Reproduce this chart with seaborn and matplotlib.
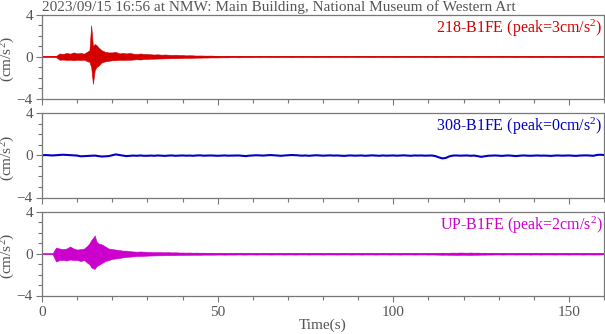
import numpy as np
import pandas as pd
import matplotlib
matplotlib.use("Agg")
import matplotlib.pyplot as plt
import seaborn as sns
from matplotlib.ticker import MultipleLocator

# ---------------- data ----------------
title = "2023/09/15 16:56 at NMW: Main Building, National Museum of Western Art"
labels = ["218-B1FE (peak=3cm/s$^2$)", "308-B1FE (peak=0cm/s$^2$)", "UP-B1FE (peak=2cm/s$^2$)"]

# sample times (s): 1 s steps, 0.5 s around the main shaking
times = (list(range(0, 14)) + [13.5, 14, 14.5, 15, 15.5] + list(range(16, 161)))
seconds = list(range(0, 161))

# envelope (max / min) of the 218-B1FE trace, cm/s^2
red_upper = [
    0.04, 0.04, 0.04, 0.05, 0.06, 0.30, 0.25, 0.35, 0.28, 0.40,
    0.30, 0.35, 0.28, 0.50, 0.60, 3.00, 1.00, 1.20, 1.10,
    0.90, 0.60, 0.45, 0.40,
    0.40, 0.45, 0.30, 0.35, 0.30, 0.35, 0.28, 0.25, 0.30, 0.25,
    0.25, 0.22, 0.20, 0.22, 0.18, 0.20, 0.18, 0.16, 0.18, 0.15,
    0.15, 0.12, 0.13, 0.12, 0.10, 0.11, 0.10, 0.09, 0.10, 0.08,
    0.08, 0.07, 0.08, 0.07, 0.07, 0.06, 0.07, 0.06, 0.06, 0.07,
    0.06, 0.05, 0.06, 0.07, 0.05, 0.06, 0.05, 0.06, 0.05, 0.06,
    0.05, 0.06, 0.05, 0.05, 0.06, 0.05, 0.06, 0.05, 0.05, 0.06,
    0.05, 0.05, 0.06, 0.05, 0.06, 0.05, 0.05, 0.06, 0.05, 0.05,
    0.06, 0.05, 0.05, 0.06, 0.05, 0.06, 0.05, 0.05, 0.06, 0.05,
    0.05, 0.06, 0.05, 0.05, 0.06, 0.05, 0.06, 0.05, 0.05, 0.06,
    0.05, 0.05, 0.06, 0.05, 0.06, 0.05, 0.05, 0.06, 0.05, 0.05,
    0.06, 0.05, 0.05, 0.06, 0.05, 0.06, 0.05, 0.05, 0.06, 0.05,
    0.05, 0.06, 0.05, 0.05, 0.06, 0.05, 0.06, 0.05, 0.05, 0.06,
    0.05, 0.05, 0.06, 0.05, 0.06, 0.05, 0.05, 0.06, 0.05, 0.05,
    0.06, 0.05, 0.05, 0.06, 0.05, 0.06, 0.05, 0.05, 0.06, 0.05,
    0.05,
]
red_lower = [
    -0.04, -0.04, -0.04, -0.05, -0.06, -0.30, -0.28, -0.32, -0.30, -0.35,
    -0.30, -0.32, -0.30, -0.45, -0.50, -1.00, -2.60, -1.30, -1.00,
    -0.90, -0.55, -0.45, -0.40,
    -0.35, -0.35, -0.30, -0.32, -0.30, -0.30, -0.28, -0.25, -0.28, -0.22,
    -0.22, -0.20, -0.20, -0.18, -0.18, -0.17, -0.16, -0.15, -0.15, -0.14,
    -0.13, -0.12, -0.12, -0.11, -0.10, -0.10, -0.09, -0.09, -0.08, -0.08,
    -0.08, -0.07, -0.07, -0.07, -0.06, -0.06, -0.07, -0.06, -0.06, -0.06,
    -0.06, -0.05, -0.06, -0.05, -0.05, -0.06, -0.05, -0.06, -0.05, -0.05,
    -0.05, -0.06, -0.05, -0.05, -0.06, -0.05, -0.05, -0.05, -0.06, -0.05,
    -0.05, -0.05, -0.06, -0.05, -0.05, -0.05, -0.06, -0.05, -0.05, -0.05,
    -0.06, -0.05, -0.05, -0.05, -0.06, -0.05, -0.05, -0.06, -0.05, -0.05,
    -0.05, -0.06, -0.05, -0.05, -0.05, -0.06, -0.05, -0.05, -0.05, -0.06,
    -0.05, -0.05, -0.06, -0.05, -0.05, -0.05, -0.06, -0.05, -0.05, -0.05,
    -0.06, -0.05, -0.05, -0.05, -0.06, -0.05, -0.05, -0.06, -0.05, -0.05,
    -0.05, -0.06, -0.05, -0.05, -0.05, -0.06, -0.05, -0.05, -0.05, -0.06,
    -0.05, -0.05, -0.06, -0.05, -0.05, -0.05, -0.06, -0.05, -0.05, -0.05,
    -0.06, -0.05, -0.05, -0.05, -0.06, -0.05, -0.05, -0.06, -0.05, -0.05,
    -0.05,
]

# 308-B1FE trace, one value per second (t = 0..160)
blue_mid = [
    0.00, 0.02, 0.00, -0.02, 0.00, 0.02, 0.05, 0.03, 0.02, 0.00,
    -0.03, -0.10, -0.08, -0.05, -0.05, -0.03, -0.08, -0.12, -0.10, -0.08,
    0.00, 0.08, 0.02, -0.03, -0.08, -0.05, -0.03, -0.05, -0.02, -0.05,
    -0.05, -0.03, -0.05, -0.02, -0.04, -0.06, -0.03, -0.02, -0.05, -0.03,
    -0.02, -0.04, -0.03, -0.05, -0.02, -0.01, -0.04, -0.03, -0.02, -0.04,
    -0.05, -0.03, -0.02, -0.04, -0.03, -0.01, -0.02, -0.05, -0.08, -0.04,
    -0.02, 0.00, -0.02, -0.03, -0.01, 0.02, 0.00, -0.03, -0.05, -0.02,
    0.00, 0.02, 0.01, -0.02, -0.04, -0.02, -0.05, -0.03, 0.00, -0.02,
    -0.04, -0.02, -0.01, -0.03, -0.02, -0.04, -0.06, -0.03, -0.02, -0.04,
    -0.03, -0.02, -0.05, -0.03, -0.01, -0.03, -0.05, -0.02, -0.04, -0.03,
    -0.02, -0.04, -0.03, -0.01, -0.03, -0.05, -0.02, -0.03, -0.02, -0.04,
    -0.03, -0.02, -0.08, -0.20, -0.30, -0.25, -0.10, -0.03, -0.02, -0.04,
    -0.03, -0.02, -0.05, -0.03, -0.08, -0.15, -0.10, -0.05, -0.03, -0.02,
    -0.04, -0.06, -0.03, -0.02, -0.05, -0.08, -0.04, -0.02, -0.03, -0.05,
    -0.03, -0.02, -0.04, -0.03, -0.05, -0.06, -0.03, -0.02, -0.04, -0.03,
    -0.02, -0.04, -0.06, -0.03, -0.02, -0.01, -0.03, -0.05, 0.03, 0.05,
    0.02,
]

# envelope (max / min) of the UP-B1FE trace, cm/s^2
mag_upper = [
    0.03, 0.03, 0.03, 0.03, 0.60, 0.50, 0.45, 0.50, 0.70, 0.50,
    0.40, 0.45, 0.50, 0.80, 1.00, 1.30, 1.50, 1.75, 1.20,
    1.00, 0.90, 0.70, 0.50,
    0.45, 0.40, 0.35, 0.30, 0.30, 0.25, 0.22, 0.20, 0.22, 0.20,
    0.18, 0.16, 0.15, 0.16, 0.15, 0.14, 0.15, 0.13, 0.14, 0.12,
    0.12, 0.11, 0.12, 0.10, 0.11, 0.10, 0.10, 0.09, 0.10, 0.09,
    0.09, 0.08, 0.09, 0.08, 0.08, 0.09, 0.08, 0.08, 0.07, 0.08,
    0.07, 0.08, 0.07, 0.07, 0.08, 0.07, 0.07, 0.08, 0.07, 0.07,
    0.08, 0.07, 0.07, 0.08, 0.07, 0.07, 0.08, 0.07, 0.07, 0.08,
    0.07, 0.07, 0.08, 0.07, 0.07, 0.08, 0.07, 0.07, 0.08, 0.07,
    0.07, 0.08, 0.07, 0.07, 0.08, 0.07, 0.07, 0.08, 0.07, 0.07,
    0.08, 0.07, 0.07, 0.08, 0.07, 0.07, 0.08, 0.07, 0.07, 0.08,
    0.07, 0.08, 0.07, 0.09, 0.10, 0.09, 0.10, 0.11, 0.10, 0.12,
    0.11, 0.10, 0.12, 0.10, 0.11, 0.09, 0.10, 0.08, 0.09, 0.08,
    0.07, 0.08, 0.07, 0.07, 0.08, 0.07, 0.07, 0.08, 0.07, 0.07,
    0.08, 0.07, 0.07, 0.08, 0.07, 0.07, 0.08, 0.07, 0.07, 0.08,
    0.07, 0.07, 0.08, 0.07, 0.07, 0.08, 0.07, 0.07, 0.08, 0.07,
    0.07,
]
mag_lower = [
    -0.03, -0.03, -0.03, -0.03, -0.75, -0.60, -0.60, -0.65, -0.55, -0.60,
    -0.60, -0.70, -0.60, -0.90, -1.00, -1.30, -1.40, -1.45, -1.20,
    -1.10, -0.90, -0.70, -0.60,
    -0.50, -0.45, -0.40, -0.35, -0.30, -0.28, -0.25, -0.22, -0.22, -0.20,
    -0.18, -0.17, -0.16, -0.15, -0.15, -0.14, -0.14, -0.13, -0.13, -0.12,
    -0.12, -0.11, -0.11, -0.10, -0.10, -0.10, -0.09, -0.09, -0.09, -0.09,
    -0.08, -0.08, -0.09, -0.08, -0.08, -0.08, -0.07, -0.08, -0.08, -0.07,
    -0.07, -0.08, -0.07, -0.07, -0.07, -0.08, -0.07, -0.07, -0.07, -0.08,
    -0.07, -0.07, -0.08, -0.07, -0.07, -0.07, -0.08, -0.07, -0.07, -0.07,
    -0.08, -0.07, -0.07, -0.07, -0.08, -0.07, -0.07, -0.07, -0.08, -0.07,
    -0.07, -0.08, -0.07, -0.07, -0.07, -0.08, -0.07, -0.07, -0.07, -0.08,
    -0.07, -0.07, -0.08, -0.07, -0.07, -0.07, -0.08, -0.07, -0.07, -0.07,
    -0.08, -0.07, -0.08, -0.09, -0.10, -0.09, -0.11, -0.10, -0.12, -0.11,
    -0.10, -0.11, -0.12, -0.10, -0.10, -0.09, -0.09, -0.08, -0.08, -0.07,
    -0.07, -0.08, -0.07, -0.07, -0.07, -0.08, -0.07, -0.07, -0.07, -0.08,
    -0.07, -0.07, -0.08, -0.07, -0.07, -0.07, -0.08, -0.07, -0.07, -0.07,
    -0.08, -0.07, -0.07, -0.07, -0.08, -0.07, -0.07, -0.08, -0.07, -0.07,
    -0.07,
]

x_ticks = [0, 50, 100, 150]
y_ticks = [-4, 0, 4]

# ---------------- style ----------------
sns.set_theme(style="ticks")
plt.rcParams["font.family"] = ["Liberation Serif", "DejaVu Serif"]
plt.rcParams["mathtext.fontset"] = "custom"
plt.rcParams["mathtext.rm"] = "Liberation Serif"
plt.rcParams["mathtext.it"] = "Liberation Serif"

GRAY_TXT = "#555555"
GRAY_AX = "#777777"
colors = ["#d40000", "#0000c8", "#cc00cc"]
FS = 11

fig = plt.figure(figsize=(6.05, 3.34), dpi=100)
L, W = 42 / 605, (604 - 42) / 605
rects = [
    (L, 1 - 98.5 / 334, W, 83.8 / 334),
    (L, 1 - 197.5 / 334, W, 84.5 / 334),
    (L, 1 - 295.5 / 334, W, 83.5 / 334),
]


def envelope_frame(t, up, lo):
    return pd.DataFrame({"t": list(t) + list(t), "v": list(up) + list(lo)})


frames = [
    envelope_frame(times, red_upper, red_lower),
    pd.DataFrame({"t": seconds, "v": blue_mid}),
    envelope_frame(times, mag_upper, mag_lower),
]

axes = []
for i, r in enumerate(rects):
    ax = fig.add_axes(r)
    axes.append(ax)
    if i == 1:
        sns.lineplot(data=frames[i], x="t", y="v", ax=ax, color=colors[i],
                     lw=1.5, estimator=None, sort=True)
    else:
        sns.lineplot(data=frames[i], x="t", y="v", ax=ax, color=colors[i],
                     lw=0.6, estimator="mean", errorbar=("pi", 100),
                     err_kws={"alpha": 1.0, "linewidth": 0.4, "edgecolor": colors[i]})
    ax.set_xlim(0, 160)
    ax.set_ylim(-4, 4)
    ax.set_xticks(x_ticks)
    ax.set_yticks(y_ticks)
    ax.xaxis.set_minor_locator(MultipleLocator(10))
    ax.yaxis.set_minor_locator(MultipleLocator(1))
    ax.tick_params(axis="both", which="major", direction="out", length=4.5,
                   width=0.8, color=GRAY_AX, labelcolor=GRAY_TXT, labelsize=FS, pad=2)
    ax.tick_params(axis="both", which="minor", direction="out", length=3,
                   width=0.8, color=GRAY_AX)
    ax.tick_params(axis="x", which="major", pad=3)
    for sp in ax.spines.values():
        sp.set_color(GRAY_AX)
        sp.set_linewidth(0.9)
        sp.set_visible(True)
    ax.set_ylabel("(cm/s$^2$)", color=GRAY_TXT, fontsize=FS)
    ax.yaxis.set_label_coords(-0.044, 0.47)
    ax.set_xlabel("")
    if i < 2:
        ax.tick_params(axis="x", labelbottom=False)
    ax.text(0.997, 0.965, labels[i], transform=ax.transAxes, ha="right", va="top",
            color=colors[i], fontsize=11.5)

axes[2].set_xlabel("Time(s)", color=GRAY_TXT, fontsize=FS, labelpad=0)
fig.text(L, 1 - 11.5 / 334, title, ha="left", va="baseline", color=GRAY_TXT, fontsize=11)

fig.savefig("out.png", dpi=100)
